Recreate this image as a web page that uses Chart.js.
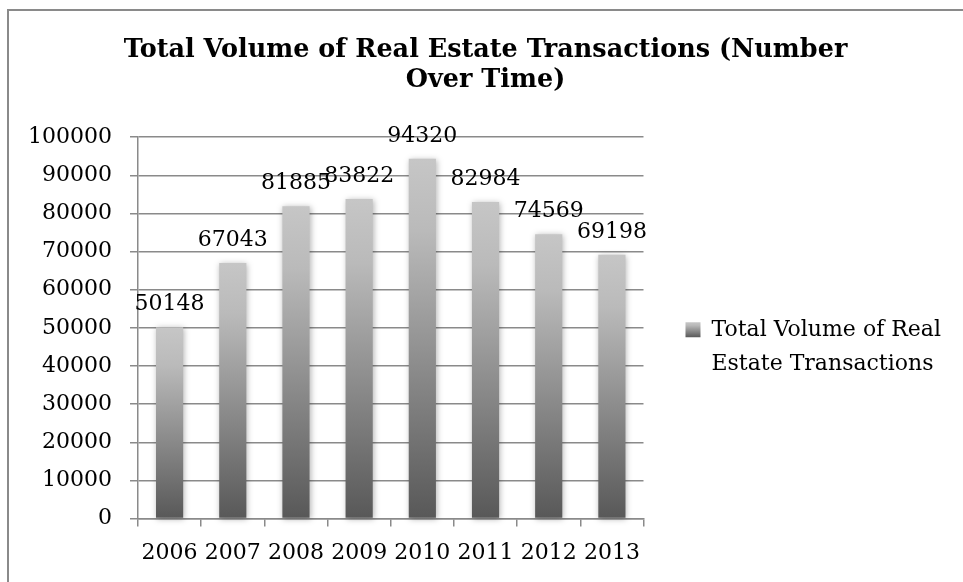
<!DOCTYPE html>
<html>
  <head>
    <title>Total Volume of Real Estate Transactions</title>
    <style>
      body { margin: 0; background: #fff; }
    </style>
  </head>
  <body>
    <script src="https://cdn.jsdelivr.net/npm/chart.js@4.4.1/dist/chart.umd.min.js"></script>
    <canvas id="myChart" width="963" height="582"></canvas>
    <script>
      // yearly totals
      const years = ["2006", "2007", "2008", "2009", "2010", "2011", "2012", "2013"];
      const volumes = [50148, 67043, 81885, 83822, 94320, 82984, 74569, 69198];
      const yTicks = [0, 10000, 20000, 30000, 40000, 50000, 60000, 70000, 80000, 90000, 100000];
      const seriesName = "Total Volume of Real Estate Transactions";
      const titleLines = ["Total Volume of Real Estate Transactions (Number", "Over Time)"];

      const FONT = "'DejaVu Serif', serif";
      const GREY = "#8a8a8a";

      // grey fade, light at the top of each bar, dark at the base
      function greyFade(ctx, top, bottom) {
        const g = ctx.createLinearGradient(0, top, 0, bottom);
        g.addColorStop(0, "#c6c6c6");
        g.addColorStop(0.2, "#bababa");
        g.addColorStop(1, "#585858");
        return g;
      }

      function barFill(context) {
        const chart = context.chart;
        const y = chart.scales.y;
        if (!chart.chartArea || !y || context.type !== "data") return "#8c8c8c";
        return greyFade(chart.ctx, y.getPixelForValue(context.raw), y.getPixelForValue(0));
      }

      function wrapLabel(ctx, text, maxWidth) {
        const words = text.split(" ");
        const lines = [];
        let line = "";
        for (const w of words) {
          const t = line ? line + " " + w : w;
          if (line && ctx.measureText(t).width > maxWidth) {
            lines.push(line);
            line = w;
          } else {
            line = t;
          }
        }
        lines.push(line);
        return lines;
      }

      // frame line on the left and top
      const frame = {
        id: "frame",
        beforeDraw(chart) {
          const ctx = chart.ctx;
          ctx.save();
          ctx.fillStyle = "#fff";
          ctx.fillRect(0, 0, chart.width, chart.height);
          ctx.strokeStyle = GREY;
          ctx.lineWidth = 2;
          ctx.beginPath();
          ctx.moveTo(8, chart.height);
          ctx.lineTo(8, 10);
          ctx.lineTo(chart.width, 10);
          ctx.stroke();
          ctx.restore();

          // legend swatch gets the same fade as the bars
          const lg = chart.legend;
          if (lg && lg.legendItems && lg.legendItems[0] && lg.legendHitBoxes && lg.legendHitBoxes[0]) {
            const hb = lg.legendHitBoxes[0];
            const top = hb.top + 3.5;
            lg.legendItems[0].fillStyle = greyFade(ctx, top, top + 15);
          }
        }
      };

      const barShadow = {
        id: "barShadow",
        beforeDatasetsDraw(chart) {
          const ctx = chart.ctx;
          ctx.save();
          ctx.shadowColor = "rgba(0,0,0,0.3)";
          ctx.shadowBlur = 6;
          ctx.shadowOffsetX = 1;
          ctx.shadowOffsetY = 1;
        },
        afterDatasetsDraw(chart) {
          chart.ctx.restore();
        }
      };

      // value written above every bar
      const valueLabels = {
        id: "valueLabels",
        afterDatasetsDraw(chart) {
          const ctx = chart.ctx;
          const ds = chart.data.datasets[0];
          ctx.save();
          ctx.font = "22px " + FONT;
          ctx.fillStyle = "#000";
          ctx.textAlign = "center";
          ctx.textBaseline = "alphabetic";
          chart.getDatasetMeta(0).data.forEach((bar, i) => {
            ctx.fillText(String(ds.data[i]), bar.x, bar.y - 17);
          });
          ctx.restore();
        }
      };

      const config = {
        type: "bar",
        data: {
          labels: years,
          datasets: [{
            label: seriesName,
            data: volumes,
            backgroundColor: barFill,
            borderWidth: 0,
            barPercentage: 0.43,
            categoryPercentage: 1,
            clip: false
          }]
        },
        options: {
          responsive: false,
          animation: false,
          layout: { padding: { left: 20, right: 12, top: 0, bottom: 3 } },
          plugins: {
            title: {
              display: true,
              text: titleLines,
              color: "#000",
              font: { family: FONT, size: 25.5, weight: "bold", lineHeight: 1.18 },
              padding: { top: 35, bottom: 42 }
            },
            legend: {
              position: "right",
              fullSize: false,
              maxWidth: 400,
              // empty heading only pushes the entry down a little
              title: { display: true, text: "", font: { size: 1, lineHeight: 1 }, padding: { top: 49, bottom: 0 } },
              labels: {
                color: "#000",
                font: { family: FONT, size: 22, lineHeight: 1.55 },
                boxWidth: 15,
                boxHeight: 15,
                padding: 42,
                generateLabels(chart) {
                  const items = Chart.defaults.plugins.legend.labels.generateLabels(chart);
                  const ctx = chart.ctx;
                  ctx.save();
                  ctx.font = "22px " + FONT;
                  items.forEach(it => {
                    it.text = wrapLabel(ctx, it.text, 245);
                    it.strokeStyle = "rgba(0,0,0,0)";
                    it.lineWidth = 0;
                  });
                  ctx.restore();
                  return items;
                }
              }
            },
            tooltip: { enabled: false }
          },
          scales: {
            x: {
              grid: { offset: true, drawOnChartArea: false, color: GREY, lineWidth: 1.5, tickLength: 8 },
              border: { color: GREY, width: 1.5 },
              ticks: { color: "#000", font: { family: FONT, size: 22 }, padding: 13, maxRotation: 0, autoSkip: false }
            },
            y: {
              min: 0,
              max: 100000,
              afterBuildTicks(scale) {
                scale.ticks = yTicks.map(v => ({ value: v }));
              },
              afterFit(scale) {
                scale.width = 118;
              },
              grid: { color: GREY, lineWidth: 1.5, tickLength: 8 },
              border: { color: GREY, width: 1.5 },
              ticks: {
                color: "#000",
                font: { family: FONT, size: 22 },
                padding: 18,
                callback: v => String(v)
              }
            }
          }
        },
        plugins: [frame, barShadow, valueLabels]
      };

      const myChart = new Chart(document.getElementById("myChart"), config);
    </script>
  </body>
</html>
